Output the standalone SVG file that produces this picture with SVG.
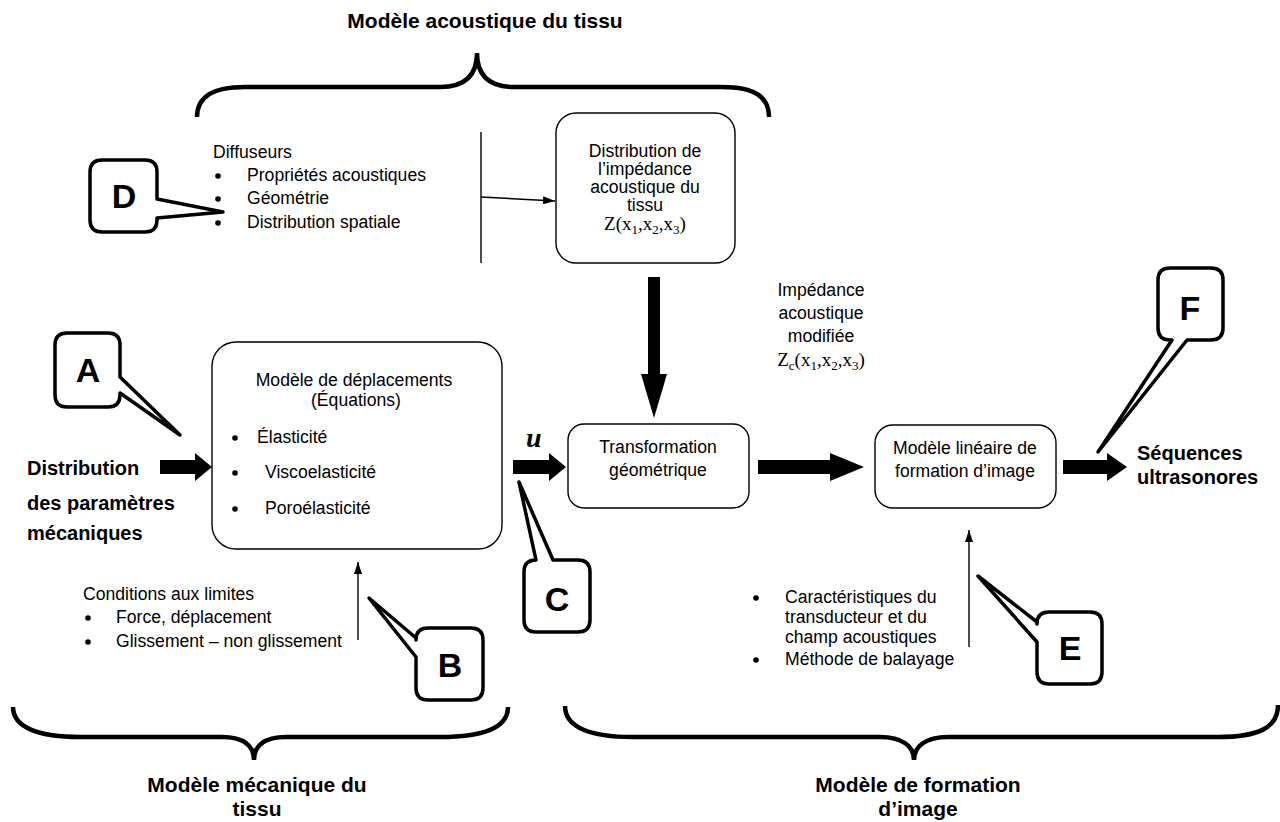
<svg xmlns="http://www.w3.org/2000/svg" width="1280" height="822" viewBox="0 0 1280 822">
<defs>
<style>
.t{font-family:"Liberation Sans",Arial,sans-serif;font-size:17.6px;fill:#000}
.m{text-anchor:middle}
.b{font-weight:bold;font-size:20px}
.h{font-weight:bold;font-size:21px}
.box{fill:#fff;stroke:#000;stroke-width:1.4}
.co{fill:#fff;stroke:#000;stroke-width:3.5;stroke-linejoin:round}
.br{fill:none;stroke:#000;stroke-width:4.5;stroke-linecap:butt}
.ln{stroke:#000;stroke-width:1.4;fill:none}
.blk{fill:#000;stroke:none}
.z{font-family:"Liberation Serif","Times New Roman",serif;font-size:19px;fill:#000}
.cl{font-family:"Liberation Sans",Arial,sans-serif;font-weight:bold;font-size:34px;text-anchor:middle;fill:#000}
</style>
<marker id="ah" viewBox="0 0 12 8" refX="12" refY="4" markerWidth="12" markerHeight="8" markerUnits="userSpaceOnUse" orient="auto"><path d="M0,0 L12,4 L0,8 Z" fill="#000"/></marker>
</defs>
<rect width="1280" height="822" fill="#fff"/>

<g id="braces">
<path class="br" d="M197,117 C197,97 212,87 245,87 H440 C465,87 477,75 477,53 C477,75 489,87 514,87 H722 C755,87 769,97 769,117"/>
<path class="br" d="M13,707 C13,728 40,737 80,737 H222 C244,737 254,746 254,760 C254,746 264,737 286,737 H440 C482,737 508,728 508,707"/>
<path class="br" d="M565,706 C565,728 592,737 632,737 H880 C902,737 914,746 914,760 C914,746 926,737 948,737 H1218 C1258,737 1278,728 1278,705"/>
</g>

<g id="titles">
<text class="t h m" x="485" y="28">Modèle acoustique du tissu</text>
<text class="t h m" x="257" y="792">Modèle mécanique du</text>
<text class="t h m" x="257" y="816">tissu</text>
<text class="t h m" x="918" y="792">Modèle de formation</text>
<text class="t h m" x="918" y="816">d’image</text>
</g>

<g id="diffuseurs">
<text class="t" x="213" y="158">Diffuseurs</text>
<circle cx="218" cy="176" r="2.8"/><text class="t" x="247" y="181">Propriétés acoustiques</text>
<circle cx="218" cy="199" r="2.8"/><text class="t" x="247" y="204">Géométrie</text>
<circle cx="218" cy="223" r="2.8"/><text class="t" x="247" y="228">Distribution spatiale</text>
</g>

<g id="node-impedance">
<rect class="box" x="556" y="113" width="179" height="150" rx="20"/>
<text class="t m" x="645" y="157">Distribution de</text>
<text class="t m" x="645" y="175">l’impédance</text>
<text class="t m" x="645" y="193">acoustique du</text>
<text class="t m" x="645" y="211">tissu</text>
<text class="z m" x="645" y="230">Z(x<tspan font-size="13" dy="4">1</tspan><tspan dy="-4">,x</tspan><tspan font-size="13" dy="4">2</tspan><tspan dy="-4">,x</tspan><tspan font-size="13" dy="4">3</tspan><tspan dy="-4">)</tspan></text>
</g>

<g id="impedance-modifiee">
<text class="t m" x="821" y="296">Impédance</text>
<text class="t m" x="821" y="319">acoustique</text>
<text class="t m" x="821" y="342">modifiée</text>
<text class="z m" x="821" y="366">Z<tspan font-size="13" dy="4">c</tspan><tspan dy="-4">(x</tspan><tspan font-size="13" dy="4">1</tspan><tspan dy="-4">,x</tspan><tspan font-size="13" dy="4">2</tspan><tspan dy="-4">,x</tspan><tspan font-size="13" dy="4">3</tspan><tspan dy="-4">)</tspan></text>
</g>

<g id="input-label">
<text class="t b" x="27" y="475">Distribution</text>
<text class="t b" x="27" y="510">des paramètres</text>
<text class="t b" x="27" y="540">mécaniques</text>
</g>

<g id="node-deplacements">
<rect class="box" x="212" y="342" width="290" height="207" rx="24"/>
<text class="t m" x="354" y="386">Modèle de déplacements</text>
<text class="t m" x="356" y="406">(Équations)</text>
<circle cx="235" cy="438" r="2.8"/><text class="t" x="257" y="443">Élasticité</text>
<circle cx="235" cy="473" r="2.8"/><text class="t" x="265" y="478">Viscoelasticité</text>
<circle cx="235" cy="509" r="2.8"/><text class="t" x="265" y="514">Poroélasticité</text>
</g>

<g id="node-transformation">
<rect class="box" x="568" y="424" width="181" height="84" rx="16"/>
<text class="t m" x="658" y="453">Transformation</text>
<text class="t m" x="658" y="476">géométrique</text>
</g>

<g id="node-lineaire">
<rect class="box" x="875" y="425" width="181" height="83" rx="18"/>
<text class="t m" x="965" y="454">Modèle linéaire de</text>
<text class="t m" x="965" y="477">formation d’image</text>
</g>

<g id="output-label">
<text class="t b" x="1137" y="460">Séquences</text>
<text class="t b" x="1137" y="484">ultrasonores</text>
</g>

<g id="conditions">
<text class="t" x="83" y="600">Conditions aux limites</text>
<circle cx="88" cy="618" r="2.8"/><text class="t" x="116" y="623">Force, déplacement</text>
<circle cx="88" cy="642" r="2.8"/><text class="t" x="116" y="647">Glissement – non glissement</text>
</g>

<g id="transducteur">
<circle cx="756" cy="598" r="2.8"/>
<text class="t" x="785" y="603">Caractéristiques du</text>
<text class="t" x="785" y="623">transducteur et du</text>
<text class="t" x="785" y="643">champ acoustiques</text>
<circle cx="756" cy="660" r="2.8"/>
<text class="t" x="785" y="665">Méthode de balayage</text>
</g>

<g id="u-label">
<text x="526" y="447" font-family="'Liberation Serif','Times New Roman',serif" font-weight="bold" font-style="italic" font-size="28">u</text>
</g>

<g id="connectors">
<line class="ln" x1="481" y1="132" x2="481" y2="263"/>
<line class="ln" x1="481" y1="197" x2="555" y2="201" marker-end="url(#ah)"/>
<path class="blk" d="M648,277 H660 V374 H667 L654,418 L641,374 H648 Z"/>
<path class="blk" d="M160,460 H195 V453 L212,467 L195,481 V474 H160 Z"/>
<path class="blk" d="M513,460 H549 V453 L566,467 L549,481 V474 H513 Z"/>
<path class="blk" d="M758,460 H830 V453 L864,467 L830,481 V474 H758 Z"/>
<path class="blk" d="M1063,460 H1107 V453 L1127,467 L1107,481 V474 H1063 Z"/>
<line class="ln" x1="358" y1="640" x2="358" y2="562" marker-end="url(#ah)"/>
<line class="ln" x1="969" y1="647" x2="969" y2="530" marker-end="url(#ah)"/>
</g>

<g id="callout-A">
<path class="co" d="M67,333 H108 Q120,333 120,345 V377 L180,435 L120,393 V395 Q120,407 108,407 H67 Q55,407 55,395 V345 Q55,333 67,333 Z"/>
<text class="cl" x="88" y="382">A</text>
</g>
<g id="callout-B">
<path class="co" d="M428,628 H471 Q483,628 483,640 V688 Q483,700 471,700 H428 Q416,700 416,688 V657 L369,598 L416,638 V640 Q416,628 428,628 Z"/>
<text class="cl" x="450" y="677">B</text>
</g>
<g id="callout-C">
<path class="co" d="M536,560 L519,482 L553,560 H578 Q590,560 590,572 V620 Q590,632 578,632 H536 Q524,632 524,620 V572 Q524,560 536,560 Z"/>
<text class="cl" x="557" y="611">C</text>
</g>
<g id="callout-D">
<path class="co" d="M102,160 H145 Q157,160 157,172 V199 L223,212 L157,218 V220 Q157,232 145,232 H102 Q90,232 90,220 V172 Q90,160 102,160 Z"/>
<text class="cl" x="124" y="208">D</text>
</g>
<g id="callout-E">
<path class="co" d="M1049,612 H1090 Q1102,612 1102,624 V672 Q1102,684 1090,684 H1049 Q1037,684 1037,672 V642 L978,576 L1037,622 V624 Q1037,612 1049,612 Z"/>
<text class="cl" x="1070" y="660">E</text>
</g>
<g id="callout-F">
<path class="co" d="M1170,268 H1211 Q1223,268 1223,280 V328 Q1223,340 1211,340 H1187 L1098,452 L1172,340 H1170 Q1158,340 1158,328 V280 Q1158,268 1170,268 Z"/>
<text class="cl" x="1190" y="320">F</text>
</g>
</svg>
